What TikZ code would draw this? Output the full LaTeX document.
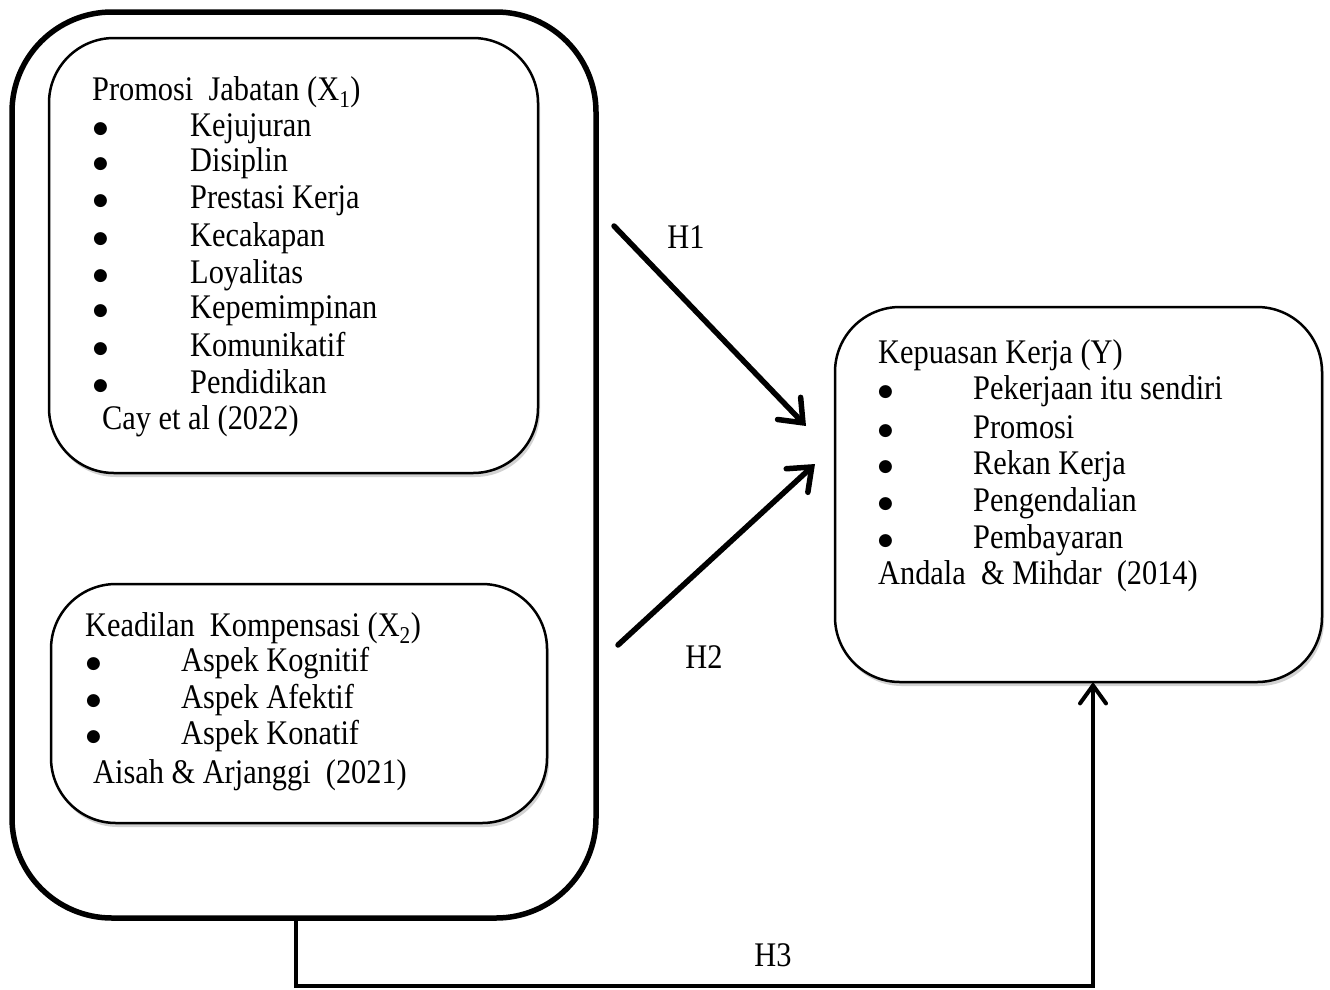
\documentclass[tikz,border=0pt]{standalone}
\usepackage{fontspec}
\setmainfont{Liberation Serif}[FakeStretch=0.88]
\newfontfamily\bulfont{DejaVu Sans}
\usetikzlibrary{arrows.meta,shadows}
\newcommand{\bigbul}{\raisebox{3pt}{\bulfont\fontsize{17}{17}\selectfont ●}}
\begin{document}
\begin{tikzpicture}[x=1pt,y=-1pt,
  txt/.style={anchor=base west, inner sep=0pt, font=\fontsize{34.5}{40}\selectfont},
  lbl/.style={anchor=center, inner sep=0pt, font=\fontsize{34.5}{40}\selectfont},
  outerbox/.style={draw, line width=5.5pt, rounded corners=100pt, inner sep=0pt, outer sep=0pt},
  varbox/.style={draw, line width=2.5pt, rounded corners=65pt, fill=white, inner sep=0pt, outer sep=0pt,
    drop shadow={opacity=0.35, shadow xshift=2pt, shadow yshift=-4pt}},
  conn/.style={line width=5.5pt, line cap=round, -{Straight Barb[length=20pt,width=32pt,line cap=round]}},
  conn3/.style={line width=4pt, -{Straight Barb[length=18pt,width=26pt,line cap=round]}}
]
\useasboundingbox (0,0) rectangle (1330,989);
\fill[white] (0,0) rectangle (1330,989);

% boxes
\node[outerbox, minimum width=584pt, minimum height=906pt] (outer) at (304,465) {};
\node[varbox, minimum width=489pt, minimum height=435pt] (x1) at (293.5,255.5) {};
\node[varbox, minimum width=496pt, minimum height=239pt] (x2) at (299,703.5) {};
\node[varbox, minimum width=487pt, minimum height=375pt] (y) at (1078.5,494.5) {};

% box X1 text
\node[txt] (x1t) at (92,100) {Promosi\ \ Jabatan (X\textsubscript{1})};
\node[txt] (x1b1) at (93,136) {\bigbul}; \node[txt] (x1i1) at (190,136) {Kejujuran};
\node[txt] (x1b2) at (93,171) {\bigbul}; \node[txt] (x1i2) at (190,171) {Disiplin};
\node[txt] (x1b3) at (93,208) {\bigbul}; \node[txt] (x1i3) at (190,208) {Prestasi Kerja};
\node[txt] (x1b4) at (93,246) {\bigbul}; \node[txt] (x1i4) at (190,246) {Kecakapan};
\node[txt] (x1b5) at (93,283) {\bigbul}; \node[txt] (x1i5) at (190,283) {Loyalitas};
\node[txt] (x1b6) at (93,318) {\bigbul}; \node[txt] (x1i6) at (190,318) {Kepemimpinan};
\node[txt] (x1b7) at (93,356) {\bigbul}; \node[txt] (x1i7) at (190,356) {Komunikatif};
\node[txt] (x1b8) at (93,393) {\bigbul}; \node[txt] (x1i8) at (190,393) {Pendidikan};
\node[txt] (x1r) at (102,429) {Cay et al (2022)};

% box X2 text
\node[txt] (x2t) at (85,636) {Keadilan\ \ Kompensasi (X\textsubscript{2})};
\node[txt] (x2b1) at (86,671) {\bigbul}; \node[txt] (x2i1) at (181,671) {Aspek Kognitif};
\node[txt] (x2b2) at (86,708) {\bigbul}; \node[txt] (x2i2) at (181,708) {Aspek Afektif};
\node[txt] (x2b3) at (86,744) {\bigbul}; \node[txt] (x2i3) at (181,744) {Aspek Konatif};
\node[txt] (x2r) at (93,783) {Aisah \& Arjanggi\ \ (2021)};

% box Y text
\node[txt] (yt) at (878,363) {Kepuasan Kerja (Y)};
\node[txt] (yb1) at (878,399) {\bigbul}; \node[txt] (yi1) at (973,399) {Pekerjaan itu sendiri};
\node[txt] (yb2) at (878,438) {\bigbul}; \node[txt] (yi2) at (973,438) {Promosi};
\node[txt] (yb3) at (878,474) {\bigbul}; \node[txt] (yi3) at (973,474) {Rekan Kerja};
\node[txt] (yb4) at (878,511) {\bigbul}; \node[txt] (yi4) at (973,511) {Pengendalian};
\node[txt] (yb5) at (878,548) {\bigbul}; \node[txt] (yi5) at (973,548) {Pembayaran};
\node[txt] (yr) at (878,584) {Andala\ \ \& Mihdar\ \ (2014)};

% connectors
\coordinate (h1s) at (614,226);
\coordinate (h1e) at (806,426);
\coordinate (h2s) at (618,645);
\coordinate (h2e) at (815,464);
\coordinate (h3a) at (296,918);
\coordinate (h3b) at (1093,986);
\draw[conn] (h1s) -- (h1e);
\draw[conn] (h2s) -- (h2e);
\draw[conn3] (h3a) |- (h3b) -- (h3b |- y.south);

% labels
\node[lbl] (h1) at (686,237) {H1};
\node[lbl] (h2) at (704,657) {H2};
\node[lbl] (h3) at (773,955) {H3};
\end{tikzpicture}
\end{document}
